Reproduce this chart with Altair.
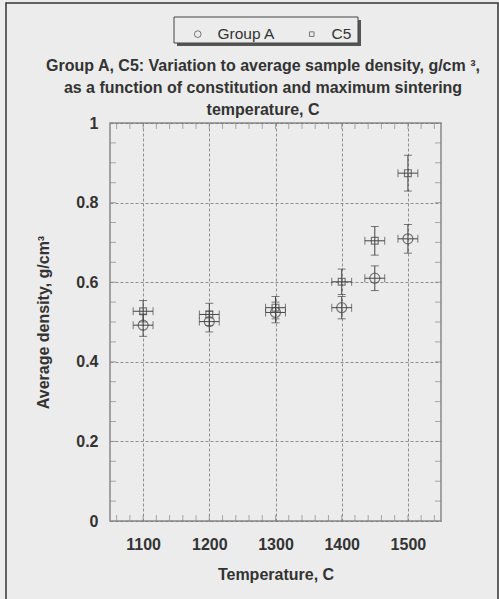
import altair as alt
import pandas as pd

# ---- data ----
temps = [1100, 1200, 1300, 1400, 1450, 1500]
group_a = [0.492, 0.501, 0.524, 0.536, 0.610, 0.709]
group_a_err = [0.028, 0.026, 0.026, 0.028, 0.031, 0.036]
c5 = [0.527, 0.519, 0.536, 0.601, 0.704, 0.874]
c5_err = [0.027, 0.028, 0.028, 0.032, 0.036, 0.045]
temp_err = [15, 15, 15, 15, 15, 15]

series_names = ["Group A", "C5"]
title_lines = ["Group A, C5: Variation to average sample density, g/cm  ³,",
               "as a function of constitution and maximum sintering",
               "temperature, C"]
x_major = [1100, 1200, 1300, 1400, 1500]
y_major = [0, 0.2, 0.4, 0.6, 0.8, 1]
x_minor = [1060, 1080, 1100, 1120, 1140, 1160, 1180, 1200, 1220, 1240, 1260, 1280,
           1300, 1320, 1340, 1360, 1380, 1400, 1420, 1440, 1460, 1480, 1500, 1520, 1540]
y_minor = [0.05, 0.1, 0.15, 0.2, 0.25, 0.3, 0.35, 0.4, 0.45, 0.5, 0.55, 0.6,
           0.65, 0.7, 0.75, 0.8, 0.85, 0.9, 0.95]

rows = []
for name, vals, errs in [("Group A", group_a, group_a_err), ("C5", c5, c5_err)]:
    for t, v, e, te in zip(temps, vals, errs, temp_err):
        rows.append({"series": name, "temp": t, "dens": v,
                     "ylo": v - e, "yhi": v + e, "xlo": t - te, "xhi": t + te})
df = pd.DataFrame(rows)

FONT = "Liberation Sans"
INK = "#444444"
BG = "#ececec"
SMALL_SQUARE = "M-0.68,-0.68H0.68V0.68H-0.68Z"

xs = alt.Scale(domain=[1050, 1550], nice=False, zero=False)
ys = alt.Scale(domain=[0, 1], nice=False)

x_axis = alt.Axis(values=x_major, format="d", title="Temperature, C", grid=True, ticks=False, domain=False,
                  gridDash=[3, 2], gridColor="#777777", gridWidth=0.8,
                  labelFont=FONT, labelFontSize=16, labelFontWeight="bold", labelColor="#333333",
                  labelPadding=15, titleFont=FONT, titleFontSize=16, titleFontWeight="bold",
                  titleColor="#333333", titlePadding=14)
y_axis = alt.Axis(values=y_major, format=".1~f", title="Average density, g/cm³", grid=True,
                  ticks=False, domain=False, gridDash=[3, 2], gridColor="#777777", gridWidth=0.8,
                  labelFont=FONT, labelFontSize=16, labelFontWeight="bold", labelColor="#333333",
                  labelPadding=12, titleFont=FONT, titleFontSize=16, titleFontWeight="bold",
                  titleColor="#333333", titlePadding=24)

base = alt.Chart(df)

one = pd.DataFrame({"a": [0]})
frame = alt.Chart(one).mark_rect(fill=BG, fillOpacity=0, stroke="#333333", strokeWidth=1.5).encode(
    x=alt.value(-104), x2=alt.value(388), y=alt.value(-120), y2=alt.value(520))
shadow = alt.Chart(one).mark_rect(fill="#555555").encode(
    x=alt.value(67), x2=alt.value(251), y=alt.value(-103), y2=alt.value(-77))
box = alt.Chart(one).mark_rect(fill=BG, stroke="#444444", strokeWidth=1).encode(
    x=alt.value(64), x2=alt.value(248), y=alt.value(-106), y2=alt.value(-80))
title = alt.Chart(one).mark_text(font=FONT, fontSize=16, fontWeight="bold", color="#333333",
                                 lineHeight=22, align="center", baseline="middle").encode(
    text=alt.value(title_lines), x=alt.value(153), y=alt.value(-57))

vbar = base.mark_rule(color=INK, strokeWidth=1).encode(
    x=alt.X("temp:Q", scale=xs, axis=x_axis),
    y=alt.Y("ylo:Q", scale=ys, axis=y_axis), y2="yhi:Q")
hbar = base.mark_rule(color=INK, strokeWidth=1).encode(
    y="dens:Q", x="xlo:Q", x2="xhi:Q")
vcap_lo = base.mark_tick(color=INK, orient="horizontal", size=8, thickness=1).encode(x="temp:Q", y="ylo:Q")
vcap_hi = base.mark_tick(color=INK, orient="horizontal", size=8, thickness=1).encode(x="temp:Q", y="yhi:Q")
hcap_lo = base.mark_tick(color=INK, orient="vertical", size=8, thickness=1).encode(x="xlo:Q", y="dens:Q")
hcap_hi = base.mark_tick(color=INK, orient="vertical", size=8, thickness=1).encode(x="xhi:Q", y="dens:Q")

points = base.mark_point(filled=False, strokeWidth=1.2, color=INK, size=100).encode(
    x="temp:Q", y="dens:Q",
    shape=alt.Shape("series:N", scale=alt.Scale(domain=series_names, range=["circle", SMALL_SQUARE]),
                    legend=alt.Legend(title=None, orient="none", legendX=80, legendY=-97,
                                      direction="horizontal", symbolSize=45, symbolStrokeColor=INK,
                                      symbolFillColor="transparent", symbolStrokeWidth=1,
                                      labelFont=FONT, labelFontSize=15.5, labelColor="#333333",
                                      labelOffset=12, columnPadding=28)))

xt = pd.DataFrame({"v": x_minor})
yt = pd.DataFrame({"v": y_minor})
xt_bot = alt.Chart(xt).mark_tick(color="#888888", orient="vertical", size=6, thickness=1, yOffset=-3).encode(
    x="v:Q", y=alt.datum(0))
xt_top = alt.Chart(xt).mark_tick(color="#888888", orient="vertical", size=6, thickness=1, yOffset=3).encode(
    x="v:Q", y=alt.datum(1))
yt_left = alt.Chart(yt).mark_tick(color="#888888", orient="horizontal", size=6, thickness=1, xOffset=3).encode(
    y="v:Q", x=alt.datum(1050))
yt_right = alt.Chart(yt).mark_tick(color="#888888", orient="horizontal", size=6, thickness=1, xOffset=-3).encode(
    y="v:Q", x=alt.datum(1550))

chart = alt.layer(
    frame, shadow, box, title, vbar, hbar, vcap_lo, vcap_hi, hcap_lo, hcap_hi,
    xt_bot, xt_top, yt_left, yt_right, points
).properties(
    width=331, height=398,
    autosize=alt.AutoSizeParams(type="none"),
    padding={"left": 110, "top": 123, "right": 58, "bottom": 78},
    background=BG,
).configure_view(stroke="#888888", strokeWidth=1.5)

chart.save("out.html", embed_options={"renderer": "svg", "actions": False})
